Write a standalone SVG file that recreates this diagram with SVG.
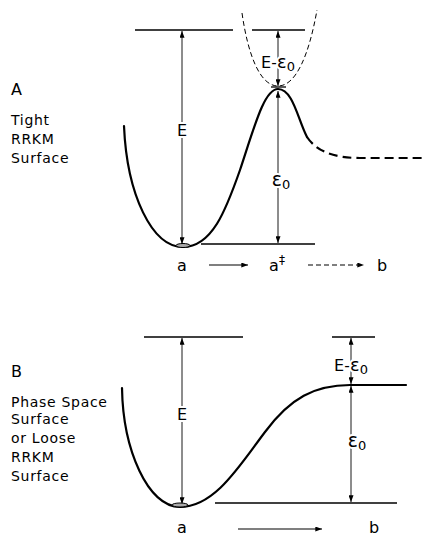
<svg xmlns="http://www.w3.org/2000/svg" width="422" height="537" viewBox="0 0 422 537">
<defs>
<marker id="ah" viewBox="0 0 8 6" refX="8" refY="3" markerWidth="7" markerHeight="5" orient="auto-start-reverse" markerUnits="userSpaceOnUse">
<path d="M0,0 L8,3 L0,6 Z" fill="#000"/>
</marker>
</defs>
<style>
.t{font-family:"DejaVu Sans","Liberation Sans",sans-serif;fill:#000}
.side{font-size:14px;letter-spacing:0.7px}
.big{font-size:16px}
.lab{font-size:16px;text-anchor:middle;stroke:#fff;stroke-width:4px;paint-order:stroke;stroke-linejoin:round}
.ax{font-size:16px;text-anchor:middle}
.lvl{stroke:#000;stroke-width:1.3;fill:none}
.curve{stroke:#000;stroke-width:2.2;fill:none;stroke-linecap:round}
.dash{stroke:#000;stroke-width:2.2;fill:none;stroke-dasharray:9 5}
.thin-dash{stroke:#000;stroke-width:1;fill:none;stroke-dasharray:5 3}
.dim{stroke:#000;stroke-width:0.9;fill:none}
.arr{stroke:#000;stroke-width:1.2;fill:none}
.gs{fill:#aaa;stroke:#000;stroke-width:1}
</style>

<g id="panelA-title">
<text class="t big" x="11" y="95">A</text>
<text class="t side" x="11" y="125">Tight</text>
<text class="t side" x="11" y="144">RRKM</text>
<text class="t side" x="11" y="163">Surface</text>
</g>

<g id="panelA-surface">
<line class="lvl" x1="135" y1="30" x2="233" y2="30"/>
<line class="lvl" x1="252" y1="30" x2="305" y2="30"/>
<line class="lvl" x1="201" y1="244" x2="315" y2="244"/>
<line class="lvl" x1="271" y1="87" x2="286" y2="87"/>
<path class="curve" d="M124,126 C127,195 152,247 183,247 C212,247 226,210 240,170 C254,128 264,89 278,89 C293,89 298,120 307,137"/>
<path class="dash" d="M307,137 C317,152 335,158 360,158 L422,158"/>
<path class="thin-dash" d="M242,13 C248,55 260,86 278,86 C296,86 309,55 317,10"/>
<ellipse class="gs" cx="183" cy="245.5" rx="7" ry="2"/>
</g>

<g id="connectors">
<line class="dim" x1="182" y1="31" x2="182" y2="244" marker-start="url(#ah)" marker-end="url(#ah)"/>
<line class="dim" x1="278" y1="31" x2="278" y2="86" marker-start="url(#ah)" marker-end="url(#ah)"/>
<line class="dim" x1="278" y1="91" x2="278" y2="243" marker-start="url(#ah)" marker-end="url(#ah)"/>
<line class="arr" x1="209" y1="265" x2="248" y2="265" marker-end="url(#ah)"/>
<line class="arr" x1="308" y1="265" x2="364" y2="265" stroke-dasharray="5 3" marker-end="url(#ah)"/>
<line class="dim" x1="182" y1="338" x2="182" y2="504" marker-start="url(#ah)" marker-end="url(#ah)"/>
<line class="dim" x1="351" y1="338" x2="351" y2="384" marker-start="url(#ah)" marker-end="url(#ah)"/>
<line class="dim" x1="351" y1="386" x2="351" y2="502" marker-start="url(#ah)" marker-end="url(#ah)"/>
<line class="arr" x1="238" y1="529" x2="322" y2="529" marker-end="url(#ah)"/>
</g>

<g id="panelA-labels">
<text class="t lab" x="182" y="136">E</text>
<text class="t lab" x="278" y="68">E-<tspan font-size="18">ε</tspan><tspan font-size="13" dy="3">0</tspan></text>
<text class="t lab" x="281" y="186"><tspan font-size="19">ε</tspan><tspan font-size="13" dy="3">0</tspan></text>
<text class="t ax" x="182" y="271">a</text>
<text class="t ax" x="277" y="271">a<tspan font-size="12" dy="-7">‡</tspan></text>
<text class="t ax" x="382" y="271">b</text>
</g>

<g id="panelB-title">
<text class="t big" x="11" y="377">B</text>
<text class="t side" x="11" y="407">Phase Space</text>
<text class="t side" x="11" y="424">Surface</text>
<text class="t side" x="11" y="443">or Loose</text>
<text class="t side" x="11" y="462">RRKM</text>
<text class="t side" x="11" y="481">Surface</text>
</g>

<g id="panelB-surface">
<line class="lvl" x1="144" y1="337" x2="243" y2="337"/>
<line class="lvl" x1="332" y1="337" x2="375" y2="337"/>
<line class="lvl" x1="215" y1="503" x2="397" y2="503"/>
<path class="curve" d="M122,388 C123,450 148,507 180,507 C215,507 240,465 265,432 C290,398 315,385 350,385 L406,385"/>
<ellipse class="gs" cx="180" cy="505" rx="8" ry="2"/>
</g>

<g id="panelB-labels">
<text class="t lab" x="182" y="420">E</text>
<text class="t lab" x="351" y="371">E-<tspan font-size="18">ε</tspan><tspan font-size="13" dy="3">0</tspan></text>
<text class="t lab" x="357" y="447"><tspan font-size="19">ε</tspan><tspan font-size="13" dy="3">0</tspan></text>
<text class="t ax" x="182" y="533">a</text>
<text class="t ax" x="374" y="533">b</text>
</g>
</svg>
